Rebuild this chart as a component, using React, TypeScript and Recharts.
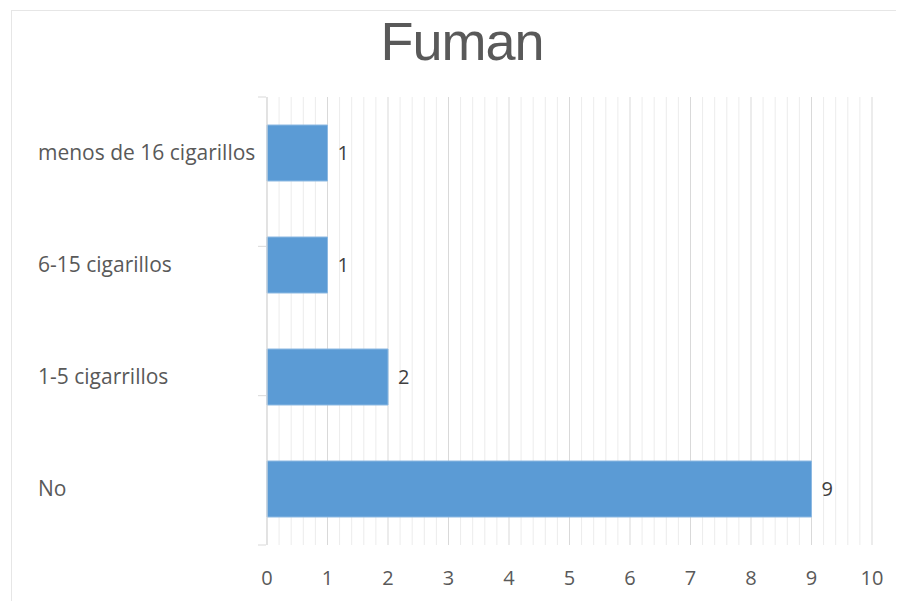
import React from "react";
import {
  BarChart,
  Bar,
  XAxis,
  YAxis,
  CartesianGrid,
  LabelList,
} from "recharts";

const categories = [
  "menos de 16 cigarillos",
  "6-15 cigarillos",
  "1-5 cigarrillos",
  "No",
];
const counts = [1, 1, 2, 9];
const xTicks = [0, 1, 2, 3, 4, 5, 6, 7, 8, 9, 10];
const bandEdges = [0, 1, 2, 3, 4];

// minor gridlines every 0.2 between the major ticks
const minorTicks = xTicks
  .slice(0, -1)
  .flatMap((t) => [t + 0.2, t + 0.4, t + 0.6, t + 0.8]);

const data = categories.map((name, i) => ({ name, value: counts[i] }));

const FONT = "'Open Sans', sans-serif";
const TEXT = "#595959";
const AXIS = "#d9d9d9";

function CategoryTick(props: any) {
  const { y, payload } = props;
  return (
    <text
      x={30}
      y={y}
      dy="0.35em"
      textAnchor="start"
      fill={TEXT}
      fontSize={21}
      fontFamily={FONT}
    >
      {payload.value}
    </text>
  );
}

const NoLabel = () => <g />;

export default function App() {
  return (
    <div style={{ position: "relative", width: 888, height: 593 }}>
      <style>{"html,body{overflow:hidden}"}</style>
      {/* chart frame: only the top and left edges fall inside the page */}
      <div
        style={{
          position: "absolute",
          left: 3,
          top: 2,
          width: 893,
          height: 1,
          background: "#e6e6e6",
        }}
      />
      <div
        style={{
          position: "absolute",
          left: 3,
          top: 2,
          width: 1,
          height: 591,
          background: "#e6e6e6",
        }}
      />
      <div
        style={{
          position: "absolute",
          left: 20,
          top: 6,
          width: 868,
          textAlign: "center",
          fontFamily: "'Liberation Sans', Arial, sans-serif",
          fontSize: 54,
          lineHeight: "54px",
          letterSpacing: -1,
          color: TEXT,
        }}
      >
        Fuman
      </div>
      <BarChart
        width={888}
        height={593}
        data={data}
        layout="vertical"
        barCategoryGap="25%"
        margin={{ top: 89, right: 24, bottom: 16, left: 0 }}
        style={{ position: "absolute", left: 0, top: 0 }}
      >
        <CartesianGrid
          horizontal={false}
          verticalValues={minorTicks}
          stroke="#ececec"
          strokeWidth={1}
        />
        <CartesianGrid horizontal={false} stroke={AXIS} strokeWidth={1} />
        <XAxis
          type="number"
          domain={[0, 10]}
          ticks={xTicks}
          interval={0}
          axisLine={false}
          tickLine={false}
          tickMargin={20}
          height={40}
          tick={{ fill: TEXT, fontSize: 20, fontFamily: FONT }}
        />
        <YAxis
          type="category"
          dataKey="name"
          width={1}
          axisLine={{ stroke: AXIS }}
          tickLine={false}
          tick={<CategoryTick />}
        />
        {/* short ticks on the category boundaries */}
        <YAxis
          yAxisId="edges"
          type="number"
          domain={[0, 4]}
          ticks={bandEdges}
          interval={0}
          width={258}
          tick={<NoLabel />}
          axisLine={false}
          tickSize={8}
          tickLine={{ stroke: AXIS }}
        />
        <Bar
          dataKey="value"
          fill="#5b9bd5"
          stroke="#8db9e2"
          strokeWidth={1}
          isAnimationActive={false}
        >
          <LabelList
            dataKey="value"
            position="right"
            offset={10}
            fill="#404040"
            fontSize={20}
            fontFamily={FONT}
          />
        </Bar>
      </BarChart>
    </div>
  );
}
